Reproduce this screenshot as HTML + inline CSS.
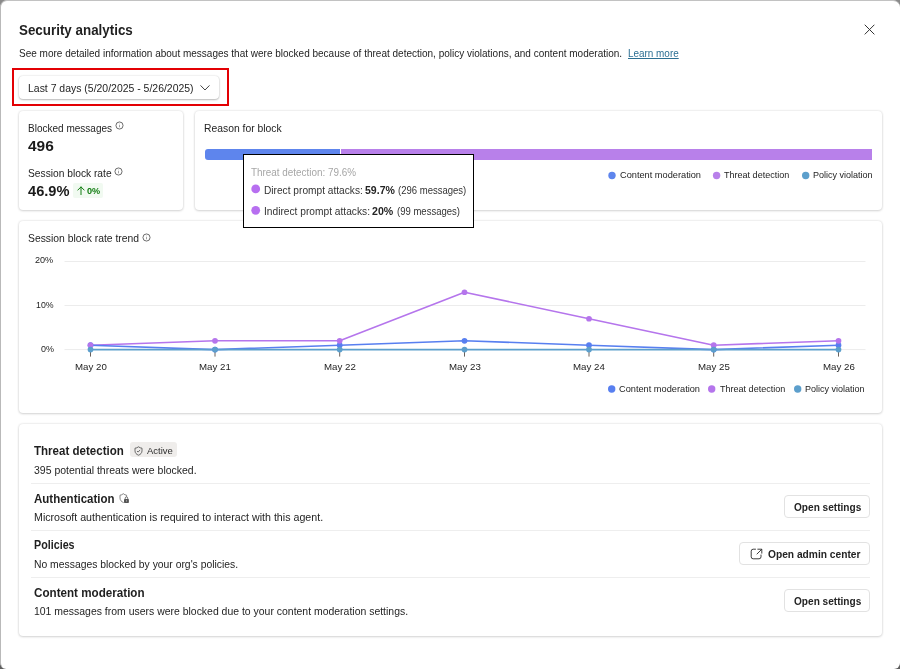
<!DOCTYPE html>
<html lang="en">
<head>
<meta charset="utf-8">
<title>Security analytics</title>
<style>
*{box-sizing:border-box;margin:0;padding:0}
html,body{width:900px;height:669px;overflow:hidden}
body{background:linear-gradient(#8a8a8a,#8a8a8a 50%,#5e5e5e);font-family:"Liberation Sans",sans-serif;color:#242424;position:relative}
.dlg{position:absolute;left:0;top:0;width:900px;height:669px;background:#fff;border-radius:7px 7px 6px 6px;border-left:1px solid #b9b9b9;border-top:1px solid #c2c2c2;overflow:hidden}
.abs{position:absolute;white-space:nowrap}
.t{position:absolute;white-space:nowrap;line-height:1;transform-origin:0 0}
.card{position:absolute;background:#fff;border-radius:4px;box-shadow:0 0 2.5px rgba(0,0,0,.15),0 1px 2.5px rgba(0,0,0,.13)}
.dot{position:absolute;border-radius:50%}
.btn{position:absolute;border:1px solid #e2e2e2;border-radius:4px;background:#fff}
.sep{position:absolute;left:31px;width:838.6px;height:1px;background:#eeeeee}
</style>
</head>
<body>
<div class="dlg" id="dlg">
<div id="root" style="position:absolute;left:-1px;top:-1px;width:900px;height:669px">

<!-- close -->
<svg class="abs" style="left:864px;top:23.7px" width="11" height="11" viewBox="0 0 11 11"><path d="M1 1 L10.1 10.1 M10.1 1 L1 10.1" stroke="#333" stroke-width="1" fill="none" stroke-linecap="round"/></svg>

<!-- date picker -->
<div class="abs" style="left:12px;top:68px;width:217px;height:38px;border:2px solid #e30004"></div>
<div class="abs" id="dd" style="left:19px;top:75.6px;width:200.4px;height:23.3px;background:#fff;border-radius:4px;box-shadow:0 0 2px rgba(0,0,0,.16),0 1px 2px rgba(0,0,0,.24)"></div>
<svg class="abs" style="left:198.5px;top:84px" width="12" height="8" viewBox="0 0 12 8"><path d="M1.8 1.7 L6 6 L10.2 1.7" stroke="#424242" stroke-width="1" fill="none" stroke-linecap="round" stroke-linejoin="round"/></svg>

<!-- card 1 -->
<div class="card" style="left:18.8px;top:111.4px;width:164.6px;height:98.6px"></div>
<svg class="abs" style="left:114.8px;top:121.4px" width="9" height="9" viewBox="0 0 9 9"><circle cx="4.5" cy="4.5" r="3.55" fill="none" stroke="#3d3d3d" stroke-width=".75"/><path d="M4.5 4.1v2.2" stroke="#777" stroke-width=".7"/><circle cx="4.5" cy="2.9" r=".45" fill="#777"/></svg>
<svg class="abs" style="left:114.0px;top:166.6px" width="9" height="9" viewBox="0 0 9 9"><circle cx="4.5" cy="4.5" r="3.55" fill="none" stroke="#3d3d3d" stroke-width=".75"/><path d="M4.5 4.1v2.2" stroke="#777" stroke-width=".7"/><circle cx="4.5" cy="2.9" r=".45" fill="#777"/></svg>
<div class="abs" style="left:72.5px;top:183.2px;width:30.2px;height:14.6px;background:#f1faf1;border-radius:2px"></div>
<svg class="abs" style="left:77.4px;top:186.2px" width="8" height="10" viewBox="0 0 8 10"><path d="M4 8.6V1M.8 4.1 L4 .9 L7.2 4.1" stroke="#107c10" stroke-width="1" fill="none" stroke-linecap="round" stroke-linejoin="round"/></svg>

<!-- card 2 -->
<div class="card" style="left:194.8px;top:111.4px;width:687.2px;height:98.6px"></div>
<div class="abs" style="left:205px;top:149.1px;width:135px;height:11px;background:#5e85ed;border-radius:3px 0 0 3px"></div>
<div class="abs" style="left:341px;top:149.1px;width:530.8px;height:11px;background:#b880ea"></div>
<svg class="abs" style="left:607px;top:170px" width="11" height="11"><circle cx="5.00" cy="5.50" r="3.70" fill="#5e85ed"/></svg>
<svg class="abs" style="left:711px;top:170px" width="11" height="11"><circle cx="5.60" cy="5.50" r="3.70" fill="#b880ea"/></svg>
<svg class="abs" style="left:801px;top:170px" width="11" height="11"><circle cx="4.70" cy="5.50" r="3.70" fill="#5c9fcc"/></svg>

<!-- card 3 trend -->
<div class="card" style="left:18.8px;top:221.4px;width:863.2px;height:191.3px"></div>
<svg class="abs" style="left:141.7px;top:232.6px" width="9" height="9" viewBox="0 0 9 9"><circle cx="4.5" cy="4.5" r="3.55" fill="none" stroke="#3d3d3d" stroke-width=".75"/><path d="M4.5 4.1v2.2" stroke="#777" stroke-width=".7"/><circle cx="4.5" cy="2.9" r=".45" fill="#777"/></svg>
<svg class="abs" id="chart" style="left:0;top:250px" width="900" height="120" viewBox="0 250 900 120">
<path d="M64.5 261.5H865.5M64.5 305.5H865.5M64.5 349.6H865.5" stroke="#ececec" stroke-width="1" fill="none"/>
<path d="M90.5 350V356.6M215.0 350V356.6M339.7 350V356.6M464.5 350V356.6M589.0 350V356.6M713.7 350V356.6M838.5 350V356.6" stroke="#6b625c" stroke-width="1" fill="none"/>
<polyline fill="none" stroke="#b575ec" stroke-width="1.6" stroke-linejoin="round" points="90.5,345.19 215.0,340.78 339.7,340.78 464.5,292.27 589.0,318.73 713.7,345.19 838.5,340.78"/>
<polyline fill="none" stroke="#587ff0" stroke-width="1.6" stroke-linejoin="round" points="90.5,345.19 215.0,349.60 339.7,345.19 464.5,340.78 589.0,345.19 713.7,349.60 838.5,345.19"/>
<polyline fill="none" stroke="#5c9fcc" stroke-width="1.6" stroke-linejoin="round" points="90.5,349.60 215.0,349.60 339.7,349.60 464.5,349.60 589.0,349.60 713.7,349.60 838.5,349.60"/>
<g fill="#587ff0"><circle cx="90.5" cy="345.19" r="2.85"/><circle cx="215.0" cy="349.60" r="2.85"/><circle cx="339.7" cy="345.19" r="2.85"/><circle cx="464.5" cy="340.78" r="2.85"/><circle cx="589.0" cy="345.19" r="2.85"/><circle cx="713.7" cy="349.60" r="2.85"/><circle cx="838.5" cy="345.19" r="2.85"/></g>
<g fill="#b575ec"><circle cx="90.5" cy="345.19" r="2.85"/><circle cx="215.0" cy="340.78" r="2.85"/><circle cx="339.7" cy="340.78" r="2.85"/><circle cx="464.5" cy="292.27" r="2.85"/><circle cx="589.0" cy="318.73" r="2.85"/><circle cx="713.7" cy="345.19" r="2.85"/><circle cx="838.5" cy="340.78" r="2.85"/></g>
<g fill="#5c9fcc"><circle cx="90.5" cy="349.60" r="2.85"/><circle cx="215.0" cy="349.60" r="2.85"/><circle cx="339.7" cy="349.60" r="2.85"/><circle cx="464.5" cy="349.60" r="2.85"/><circle cx="589.0" cy="349.60" r="2.85"/><circle cx="713.7" cy="349.60" r="2.85"/><circle cx="838.5" cy="349.60" r="2.85"/></g>
</svg>
<svg class="abs" style="left:607px;top:384px" width="11" height="11"><circle cx="4.70" cy="5.00" r="3.70" fill="#587ff0"/></svg>
<svg class="abs" style="left:707px;top:384px" width="11" height="11"><circle cx="4.70" cy="5.00" r="3.70" fill="#b575ec"/></svg>
<svg class="abs" style="left:793px;top:384px" width="11" height="11"><circle cx="4.70" cy="5.00" r="3.70" fill="#5c9fcc"/></svg>

<!-- tooltip -->
<div class="abs" style="left:243px;top:154px;width:231px;height:73.6px;background:#fff;border:1px solid #000"></div>
<svg class="abs" style="left:250px;top:183px" width="12" height="12"><circle cx="5.70" cy="5.90" r="4.40" fill="#b76ff0"/></svg>
<svg class="abs" style="left:250px;top:204px" width="12" height="12"><circle cx="5.70" cy="6.30" r="4.40" fill="#b76ff0"/></svg>

<!-- bottom card -->
<div class="card" style="left:18.8px;top:424.3px;width:863.2px;height:211.9px"></div>
<div class="abs" style="left:129.7px;top:442px;width:47.3px;height:15px;background:#efedeb;border-radius:3px"></div>
<svg class="abs" style="left:134px;top:445.5px" width="9" height="10" viewBox="0 0 9 10"><path d="M4.5 .8 C5.6 1.7 6.8 2.1 8 2.2 V4.8 C8 7 6.6 8.4 4.5 9.2 C2.4 8.4 1 7 1 4.8 V2.2 C2.2 2.1 3.4 1.7 4.5 .8Z" fill="none" stroke="#4a4a4a" stroke-width=".8"/><path d="M3 5 L4.1 6.1 L6.1 3.9" fill="none" stroke="#4a4a4a" stroke-width=".8"/></svg>
<div class="sep" style="top:482.8px"></div>

<svg class="abs" style="left:119px;top:493px" width="11" height="11" viewBox="0 0 11 11"><path d="M4.3 9.5 C2.3 8.6 1 7.2 1 5 V2.2 C2.2 2.1 3.3 1.6 4.3 .7 C5.3 1.6 6.4 2.1 7.6 2.2 V3.4" fill="none" stroke="#707070" stroke-width=".85" stroke-linecap="round"/><rect x="5" y="6" width="4.9" height="3.9" rx=".7" fill="#555"/><path d="M6.2 6.2V5.2a1.25 1.25 0 0 1 2.5 0V6.2" fill="none" stroke="#555" stroke-width=".85"/><rect x="7.1" y="7.3" width=".7" height="1.2" fill="#ddd"/></svg>
<div class="btn" id="b1" style="left:784.3px;top:495.2px;width:85.3px;height:23.2px"></div>
<div class="sep" style="top:530px"></div>

<div class="btn" id="b2" style="left:739.2px;top:542.2px;width:130.4px;height:23.2px"></div>
<svg class="abs" style="left:750.3px;top:548px" width="13" height="12" viewBox="0 0 13 12"><path d="M5.5 1.2H3.2A2 2 0 0 0 1.2 3.2V8.800A2 2 0 0 0 3.2 10.8H9A2 2 0 0 0 11 8.8V7" fill="none" stroke="#333" stroke-width=".95" stroke-linecap="round"/><path d="M7.8 1.2H11.8V5.2M11.6 1.4L7 6" fill="none" stroke="#333" stroke-width=".95" stroke-linecap="round" stroke-linejoin="round"/></svg>
<div class="sep" style="top:577px"></div>

<div class="btn" id="b3" style="left:784.3px;top:589.2px;width:85.3px;height:23.2px"></div>

<div class="t" id="title" style="left:18.8px;top:22px;font-size:15.5px;transform:scaleX(0.8632);font-weight:bold;color:#1f1f1f">Security analytics</div>
<div class="t" id="sub" style="left:18.8px;top:48px;font-size:10.7px;transform:scaleX(0.9356);">See more detailed information about messages that were blocked because of threat detection, policy violations, and content moderation.</div>
<div class="t" id="learn" style="left:627.9px;top:48px;font-size:10.7px;transform:scaleX(0.9276);color:#2c6f93;text-decoration:underline;text-underline-offset:1px">Learn more</div>
<div class="t" id="ddt" style="left:28.3px;top:83px;font-size:10.7px;transform:scaleX(0.9779);">Last 7 days (5/20/2025 - 5/26/2025)</div>
<div class="t" id="bm" style="left:27.8px;top:123px;font-size:10.7px;transform:scaleX(0.9375);">Blocked messages</div>
<div class="t" id="n496" style="left:27.8px;top:138px;font-size:15.0px;transform:scaleX(1.0307);font-weight:bold;color:#1a1a1a">496</div>
<div class="t" id="sbr" style="left:27.8px;top:168px;font-size:10.7px;transform:scaleX(0.9573);">Session block rate</div>
<div class="t" id="n469" style="left:27.8px;top:183px;font-size:15.0px;transform:scaleX(0.9754);font-weight:bold;color:#1a1a1a">46.9%</div>
<div class="t" id="zp" style="left:87.1px;top:187px;font-size:8.7px;transform:scaleX(1.0507);font-weight:bold;color:#107c10">0%</div>
<div class="t" id="rfb" style="left:203.8px;top:123px;font-size:10.7px;transform:scaleX(0.9675);">Reason for block</div>
<div class="t" id="l1a" style="left:619.6px;top:170px;font-size:9.6px;transform:scaleX(0.9612);">Content moderation</div>
<div class="t" id="l1b" style="left:724.3px;top:170px;font-size:9.6px;transform:scaleX(0.9417);">Threat detection</div>
<div class="t" id="l1c" style="left:813.3px;top:170px;font-size:9.6px;transform:scaleX(0.9390);">Policy violation</div>
<div class="t" id="sbt" style="left:27.8px;top:233px;font-size:10.7px;transform:scaleX(0.9690);">Session block rate trend</div>
<div class="t" id="l2a" style="left:618.9px;top:384px;font-size:9.6px;transform:scaleX(0.9612);">Content moderation</div>
<div class="t" id="l2b" style="left:719.6px;top:384px;font-size:9.6px;transform:scaleX(0.9417);">Threat detection</div>
<div class="t" id="l2c" style="left:805.3px;top:384px;font-size:9.6px;transform:scaleX(0.9390);">Policy violation</div>
<div class="t" id="y20" style="left:35.3px;top:255px;font-size:9.6px;transform:scaleX(0.9478);">20%</div>
<div class="t" id="y10" style="left:35.9px;top:300px;font-size:9.6px;transform:scaleX(0.9165);">10%</div>
<div class="t" id="y0" style="left:40.5px;top:344px;font-size:9.6px;transform:scaleX(0.9369);">0%</div>
<div class="t" id="x0" style="left:74.7px;top:362px;font-size:9.6px;transform:scaleX(1.0105);">May 20</div>
<div class="t" id="x1" style="left:199.2px;top:362px;font-size:9.6px;transform:scaleX(1.0105);">May 21</div>
<div class="t" id="x2" style="left:323.9px;top:362px;font-size:9.6px;transform:scaleX(1.0105);">May 22</div>
<div class="t" id="x3" style="left:448.7px;top:362px;font-size:9.6px;transform:scaleX(1.0105);">May 23</div>
<div class="t" id="x4" style="left:573.2px;top:362px;font-size:9.6px;transform:scaleX(1.0105);">May 24</div>
<div class="t" id="x5" style="left:697.9px;top:362px;font-size:9.6px;transform:scaleX(1.0105);">May 25</div>
<div class="t" id="x6" style="left:822.7px;top:362px;font-size:9.6px;transform:scaleX(1.0105);">May 26</div>
<div class="t" id="tt0" style="left:251.3px;top:168px;font-size:10.3px;transform:scaleX(0.9612);color:#a6a6a6">Threat detection: 79.6%</div>
<div class="t" id="tt1a" style="left:264.3px;top:186px;font-size:10.4px;transform:scaleX(0.9776);color:#333">Direct prompt attacks:</div>
<div class="t" id="tt1b" style="left:364.9px;top:186px;font-size:10.4px;transform:scaleX(1.0146);font-weight:bold;color:#242424">59.7%</div>
<div class="t" id="tt1c" style="left:397.6px;top:186px;font-size:10.4px;transform:scaleX(0.9166);color:#333">(296 messages)</div>
<div class="t" id="tt2a" style="left:264.3px;top:207px;font-size:10.4px;transform:scaleX(0.9815);color:#333">Indirect prompt attacks:</div>
<div class="t" id="tt2b" style="left:372.4px;top:207px;font-size:10.4px;transform:scaleX(1.0194);font-weight:bold;color:#242424">20%</div>
<div class="t" id="tt2c" style="left:396.8px;top:207px;font-size:10.4px;transform:scaleX(0.9166);color:#333">(99 messages)</div>
<div class="t" id="h1" style="left:34.0px;top:445px;font-size:12.2px;transform:scaleX(0.9471);font-weight:bold;color:#1f1f1f">Threat detection</div>
<div class="t" id="act" style="left:147.4px;top:446px;font-size:9.8px;transform:scaleX(0.9705);color:#2e2e2e">Active</div>
<div class="t" id="p1" style="left:34.0px;top:465px;font-size:10.7px;transform:scaleX(0.9809);">395 potential threats were blocked.</div>
<div class="t" id="h2" style="left:34.0px;top:493px;font-size:12.2px;transform:scaleX(0.9448);font-weight:bold;color:#1f1f1f">Authentication</div>
<div class="t" id="p2" style="left:34.0px;top:512px;font-size:10.7px;transform:scaleX(0.9972);">Microsoft authentication is required to interact with this agent.</div>
<div class="t" id="h3" style="left:34.0px;top:539px;font-size:12.2px;transform:scaleX(0.8811);font-weight:bold;color:#1f1f1f">Policies</div>
<div class="t" id="p3" style="left:34.0px;top:559px;font-size:10.7px;transform:scaleX(0.9694);">No messages blocked by your org's policies.</div>
<div class="t" id="h4" style="left:34.0px;top:587px;font-size:12.2px;transform:scaleX(0.9552);font-weight:bold;color:#1f1f1f">Content moderation</div>
<div class="t" id="p4" style="left:34.0px;top:606px;font-size:10.7px;transform:scaleX(0.9778);">101 messages from users were blocked due to your content moderation settings.</div>
<div class="t" id="bt1" style="left:793.6px;top:502px;font-size:10.7px;transform:scaleX(0.9444);font-weight:bold;">Open settings</div>
<div class="t" id="bt2" style="left:768.4px;top:549px;font-size:10.7px;transform:scaleX(0.9555);font-weight:bold;">Open admin center</div>
<div class="t" id="bt3" style="left:793.6px;top:596px;font-size:10.7px;transform:scaleX(0.9444);font-weight:bold;">Open settings</div>
</div>
</div>
</body>
</html>
